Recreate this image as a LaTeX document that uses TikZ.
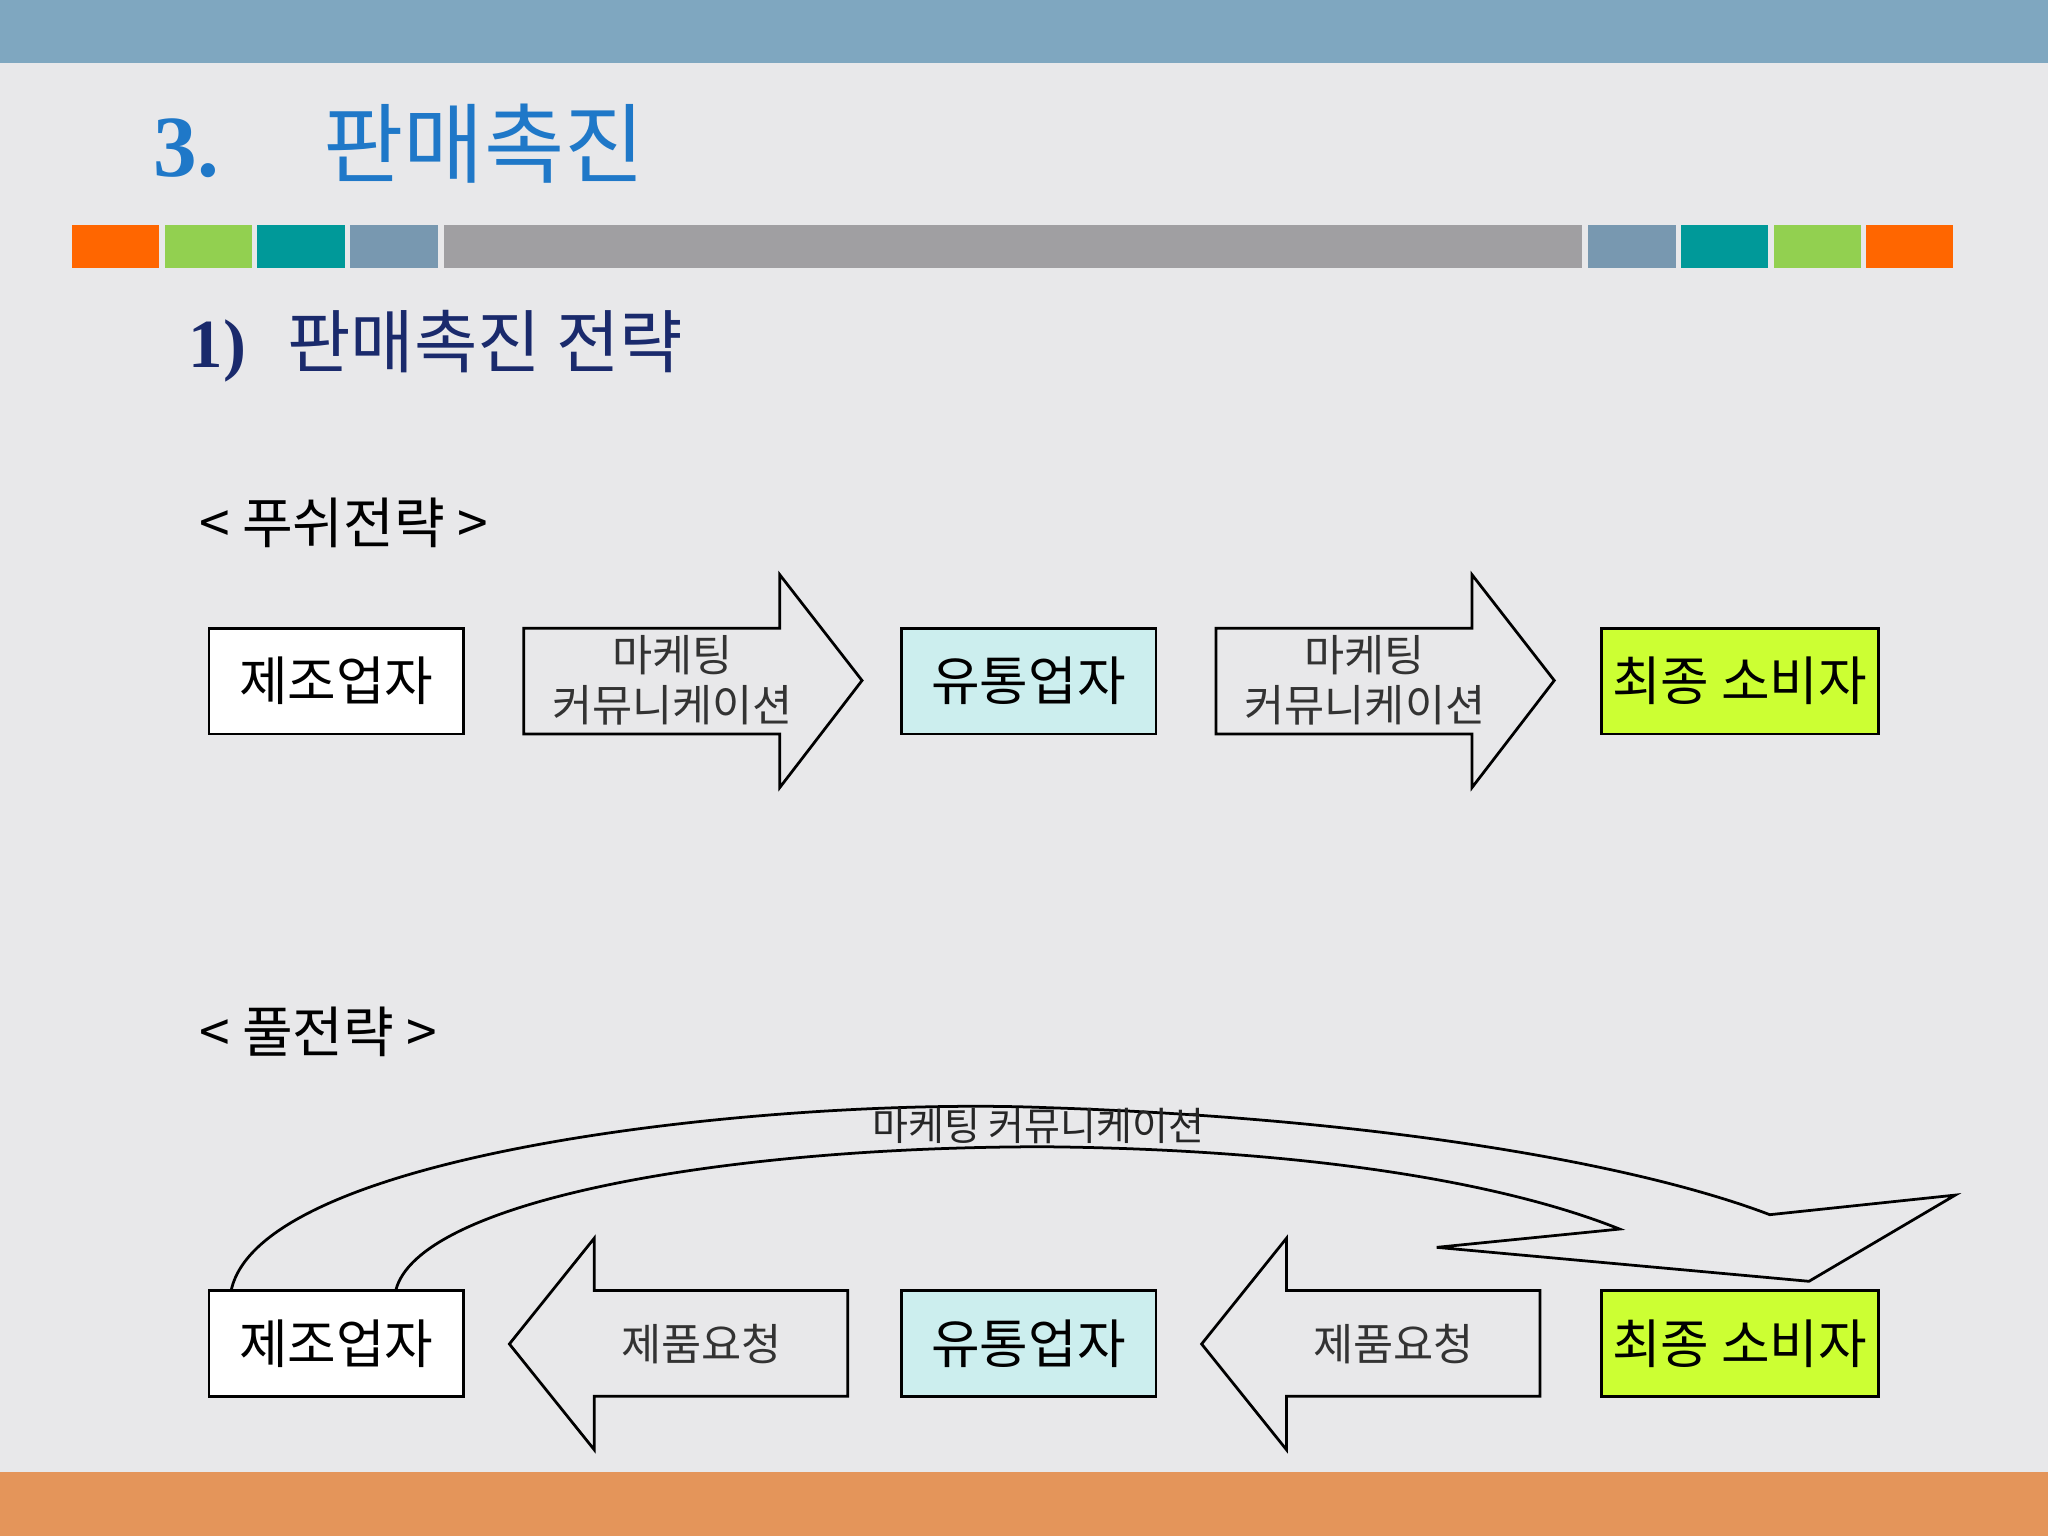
\documentclass[tikz,border=0pt]{standalone}
\usepackage{fontspec}
\setmainfont{Noto Sans CJK KR}
\newfontfamily\serifnum{Liberation Serif}
\begin{document}
\begin{tikzpicture}[x=0.01cm,y=-0.01cm,
  box/.style={draw=black,line width=0.6pt,minimum width=195*0.01cm,minimum height=81*0.01cm,inner sep=0pt,font=\fontsize{11.5}{13}\selectfont},
  arr/.style={draw=black,line width=0.6pt,fill=none},
  lbl/.style={font=\fontsize{9.5}{11}\selectfont,text=black!80,align=center}]
\definecolor{bg}{HTML}{E8E8EA}
\useasboundingbox (0,0) rectangle (1568,1176);
\fill[bg] (0,0) rectangle (1568,1176);
\fill[fill={rgb,255:red,127;green,167;blue,192}] (0,0) rectangle (1568,48);
\fill[fill={rgb,255:red,228;green,149;blue,90}] (0,1127) rectangle (1568,1176);
% color bar
\definecolor{co}{HTML}{FF6600}\definecolor{cg}{HTML}{92D050}\definecolor{ct}{HTML}{009999}\definecolor{cs}{HTML}{7898B0}\definecolor{cy}{HTML}{A09FA2}
\fill[co] (55,172) rectangle (122,205);
\fill[cg] (126,172) rectangle (193,205);
\fill[ct] (197,172) rectangle (264,205);
\fill[cs] (268,172) rectangle (335,205);
\fill[cy] (340,172) rectangle (1211,205);
\fill[cs] (1216,172) rectangle (1283,205);
\fill[ct] (1287,172) rectangle (1354,205);
\fill[cg] (1358,172) rectangle (1425,205);
\fill[co] (1429,172) rectangle (1495,205);
% titles
\node[anchor=west,text={rgb,255:red,31;green,120;blue,200},font=\fontsize{19}{22}\selectfont] (title) at (105,110) {{\serifnum\bfseries 3.}\hspace{1.2em}판매촉진};
\node[anchor=west,text={rgb,255:red,26;green,42;blue,108},font=\fontsize{15}{18}\selectfont] (sub) at (132,265) {{\serifnum\bfseries 1)}\hspace{0.6em}판매촉진 전략};
\node[anchor=west,font=\fontsize{12}{14}\selectfont] (push) at (140,400) {< 푸쉬전략 >};
\node[anchor=west,font=\fontsize{12}{14}\selectfont] (pull) at (140,790) {< 풀전략 >};
% row 1
\node[box,fill=white] (m1) at (257.5,521.5) {제조업자};
\node[box,fill={rgb,255:red,204;green,238;blue,238}] (d1) at (787.5,521.5) {유통업자};
\node[box,fill={rgb,255:red,204;green,255;blue,51},minimum width=212*0.01cm] (c1) at (1332,521.5) {최종 소비자};
\draw[arr] (401,481) -- (597,481) -- (597,440) -- (660,521) -- (597,603) -- (597,562) -- (401,562) -- cycle;
\node[lbl] (l1) at (515,521) {마케팅\\커뮤니케이션};
\draw[arr] (931,481) -- (1127,481) -- (1127,440) -- (1190,521) -- (1127,603) -- (1127,562) -- (931,562) -- cycle;
\node[lbl] (l2) at (1045,521) {마케팅\\커뮤니케이션};
% row 2
\node[box,fill=white] (m2) at (257.5,1028.5) {제조업자};
\node[box,fill={rgb,255:red,204;green,238;blue,238}] (d2) at (787.5,1028.5) {유통업자};
\node[box,fill={rgb,255:red,204;green,255;blue,51},minimum width=212*0.01cm] (c2) at (1332,1028.5) {최종 소비자};
\draw[arr] (649,988) -- (455,988) -- (455,948) -- (390,1029) -- (455,1110) -- (455,1069) -- (649,1069) -- cycle;
\node[lbl] (l3) at (537,1029) {제품요청};
\draw[arr] (1179,988) -- (985,988) -- (985,948) -- (920,1029) -- (985,1110) -- (985,1069) -- (1179,1069) -- cycle;
\node[lbl] (l4) at (1067,1029) {제품요청};
% curved arrow
\draw[arr] (177,988) .. controls (200,880) and (600,840) .. (800,848)
  .. controls (1050,856) and (1250,890) .. (1355,930)
  -- (1497,915) -- (1385,981) -- (1100,955) -- (1240,941)
  .. controls (1150,905) and (1000,880) .. (800,878)
  .. controls (550,878) and (320,920) .. (303,988);
\node[font=\fontsize{8.5}{10}\selectfont,text=black!85] (l5) at (795,862) {마케팅 커뮤니케이션};
\end{tikzpicture}
\end{document}
